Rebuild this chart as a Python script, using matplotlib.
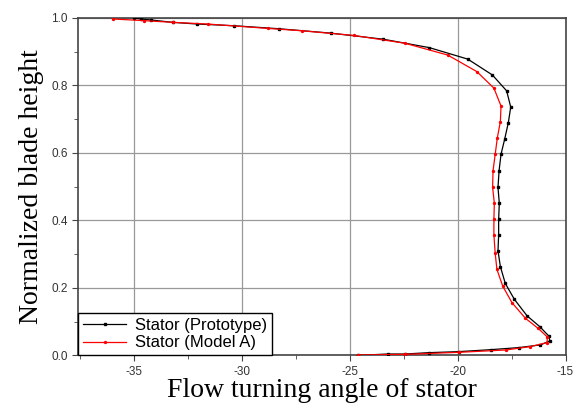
import numpy as np
import matplotlib
matplotlib.use('Agg')
import matplotlib.pyplot as plt
from matplotlib.ticker import MultipleLocator

plt.rcParams['axes.unicode_minus'] = False

# Stator (Prototype): flow turning angle vs normalized blade height
proto_angle = [-24.64, -23.25, -22.44, -21.35, -19.96, -18.44, -17.17, -16.16, -15.73,
               -15.77, -16.19, -16.78, -17.37, -17.79, -18.02, -18.13, -18.10, -18.10,
               -18.07, -18.13, -18.08, -17.99, -17.82, -17.65, -17.54, -17.73, -18.39,
               -19.53, -21.31, -23.45, -25.88, -28.28, -30.39, -32.08, -33.21, -34.22,
               -34.69, -35.00]
proto_height = [0.000, 0.004, 0.004, 0.008, 0.011, 0.017, 0.023, 0.031, 0.043,
                0.057, 0.085, 0.117, 0.166, 0.213, 0.263, 0.310, 0.357, 0.403,
                0.451, 0.498, 0.547, 0.596, 0.641, 0.690, 0.736, 0.784, 0.831,
                0.878, 0.912, 0.937, 0.955, 0.968, 0.977, 0.982, 0.987, 0.994,
                0.997, 0.999]

# Stator (Model A)
modela_angle = [-24.64, -22.44, -19.96, -17.76, -16.63, -15.85, -15.85, -16.27, -16.86,
                -17.48, -17.91, -18.18, -18.26, -18.32, -18.32, -18.30, -18.38, -18.36,
                -18.26, -18.16, -18.02, -17.99, -18.32, -19.11, -20.46, -22.44, -24.79,
                -27.21, -28.80, -31.59, -33.21, -34.53, -36.00]
modela_height = [0.001, 0.003, 0.009, 0.016, 0.026, 0.038, 0.055, 0.080, 0.110,
                 0.156, 0.205, 0.255, 0.302, 0.357, 0.403, 0.451, 0.498, 0.547,
                 0.596, 0.645, 0.693, 0.739, 0.792, 0.841, 0.890, 0.925, 0.948,
                 0.962, 0.969, 0.982, 0.987, 0.992, 0.997]

fig = plt.figure(figsize=(5.75, 4.08), dpi=100)
ax = fig.add_axes([0.1357, 0.129, 0.8478, 0.827])

ax.plot(proto_angle, proto_height, color='black', lw=0.9, marker='s', ms=1.8,
        label='Stator (Prototype)', zorder=3)
ax.plot(modela_angle, modela_height, color='red', lw=0.9, marker='o', ms=1.4,
        label='Stator (Model A)', zorder=4)

ax.set_xlim(-37.6, -15)
ax.set_ylim(0, 1.0)
ax.xaxis.set_major_locator(MultipleLocator(5))
ax.xaxis.set_minor_locator(MultipleLocator(2.5))
ax.yaxis.set_major_locator(MultipleLocator(0.2))
ax.yaxis.set_minor_locator(MultipleLocator(0.1))
ax.yaxis.set_major_formatter(matplotlib.ticker.FormatStrFormatter('%.1f'))

# grid and frame
ax.grid(True, which='major', color='#999999', lw=0.9)
ax.set_axisbelow(True)
for s in ax.spines.values():
    s.set_color('#444444')
    s.set_linewidth(1.2)
ax.tick_params(which='both', direction='out', colors='#444444', labelsize=8.5,
               labelcolor='#333333')
ax.tick_params(which='major', length=4)
ax.tick_params(which='minor', length=3)
for lbl in ax.get_xticklabels() + ax.get_yticklabels():
    lbl.set_family('Liberation Sans')

ax.set_xlabel('Flow turning angle of stator', family='Liberation Serif', fontsize=20,
              labelpad=0)
ax.set_ylabel('Normalized blade height', family='Liberation Serif', fontsize=20,
              labelpad=5)

leg = ax.legend(loc='lower left', bbox_to_anchor=(0, 0), borderaxespad=0,
                fancybox=False, edgecolor='black', framealpha=1,
                prop={'family': 'Liberation Sans', 'size': 12},
                handlelength=2.6, borderpad=0.3, labelspacing=0.15, handletextpad=0.5)
leg.get_frame().set_linewidth(1.0)

fig.savefig('out.png', dpi=100)
